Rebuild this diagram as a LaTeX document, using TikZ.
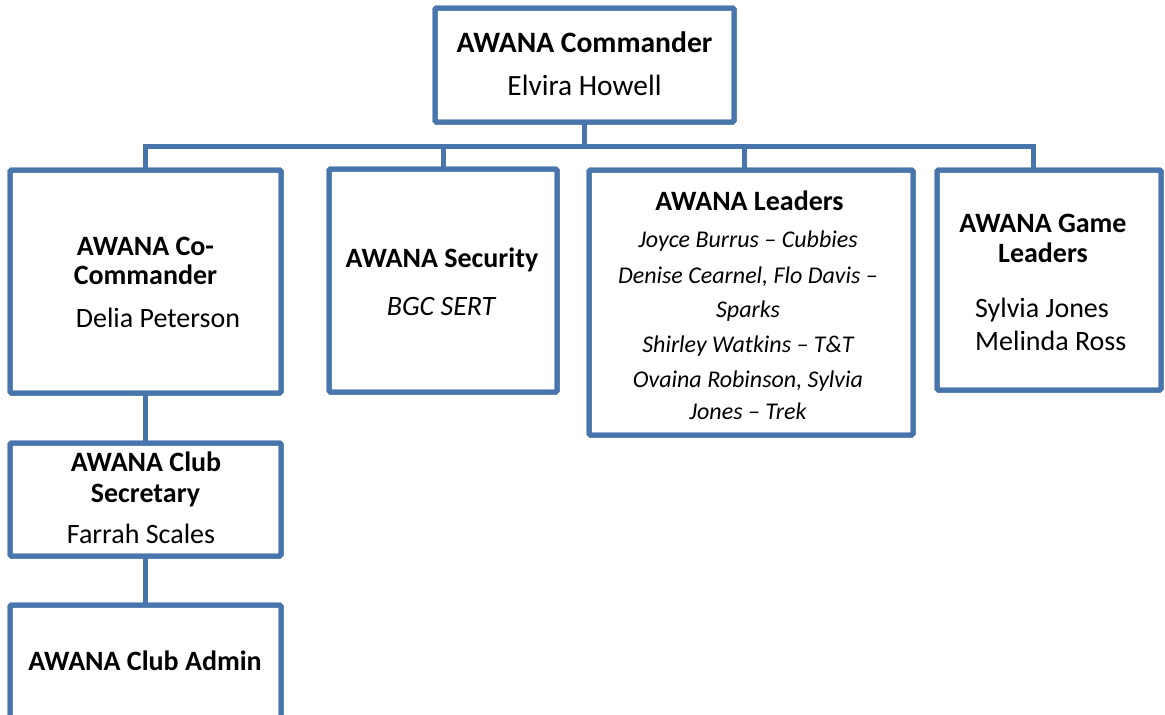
\documentclass[tikz,border=0pt]{standalone}
\usepackage{fontspec}
\setmainfont{Carlito}
\definecolor{orgblue}{RGB}{72,117,171}
\tikzset{
  box/.style={draw=orgblue, line width=5pt, rounded corners=1.5pt, inner sep=0pt, outer sep=0pt, fill=white},
  wire/.style={draw=orgblue, line width=5pt},
  rim/.style={draw=orgblue, line width=5pt, rounded corners=1.5pt},
  ttl/.style={anchor=base, inner sep=0pt, font=\fontsize{28}{34}\selectfont\bfseries},
  nm/.style={anchor=base, inner sep=0pt, font=\fontsize{28}{34}\selectfont},
  it/.style={anchor=base, inner sep=0pt, font=\fontsize{24}{29}\selectfont\itshape},
}
\begin{document}
\begin{tikzpicture}[x=1pt,y=-1pt]
\useasboundingbox (0,0) rectangle (1165,715);
\clip (0,0) rectangle (1165,715);
% boxes
\node[box, minimum width=299pt, minimum height=114pt] (cmd) at (584.5,65) {};
\node[box, minimum width=271pt, minimum height=223pt] (co) at (145.5,281.5) {};
\node[box, minimum width=228pt, minimum height=223pt] (sec) at (443,280.5) {};
\node[box, minimum width=324pt, minimum height=265pt] (lead) at (751,302.5) {};
\node[box, minimum width=224pt, minimum height=220pt] (game) at (1049,280) {};
\node[box, minimum width=271pt, minimum height=113pt] (secr) at (145.5,499.5) {};
\node[box, minimum width=271pt, minimum height=150pt] (adm) at (145.5,680) {};
% connector anchors
\coordinate (bus) at (0,146);
\coordinate (lx) at (744,0);
\coordinate (gx) at (1033,0);
% connectors
\draw[wire] (cmd.south) -- (cmd.south |- bus);
\draw[wire] (co.north) -- (co.north |- bus) -- (gx |- bus) -- (gx |- game.north);
\draw[wire] (sec.north |- bus) -- (sec.north);
\draw[wire] (lx |- bus) -- (lx |- lead.north);
\draw[wire] (co.south) -- (secr.north);
\draw[wire] (secr.south) -- (adm.north);
% redraw box borders over wires
\foreach \n in {cmd,co,sec,lead,game,secr,adm}{
  \draw[rim] (\n.north west) rectangle (\n.south east);
}
% texts
\node[ttl, font=\fontsize{29.6}{35}\selectfont\bfseries] (t1) at (584.5,52) {AWANA Commander};
\node[nm, font=\fontsize{29.4}{35}\selectfont] (n1) at (584.5,95) {Elvira Howell};
\node[ttl] (t2a) at (145.5,255) {AWANA Co-};
\node[ttl] (t2b) at (145.5,284) {Commander};
\node[nm] (n2) at (158,327) {Delia Peterson};
\node[ttl] (t3) at (442,267) {AWANA Security};
\node[it] (n3) at (441,315) {\fontsize{28}{34}\selectfont BGC SERT};
\node[ttl] (t4) at (749.5,210) {AWANA Leaders};
\node[it] (l1) at (748,247) {Joyce Burrus – Cubbies};
\node[it] (l2) at (748,283) {Denise Cearnel, Flo Davis –};
\node[it] (l3) at (748,317) {Sparks};
\node[it] (l4) at (748,352) {Shirley Watkins – T\&T};
\node[it] (l5) at (748,387) {Ovaina Robinson, Sylvia};
\node[it] (l6) at (748,419) {Jones – Trek};
\node[ttl] (t5a) at (1043,232) {AWANA Game};
\node[ttl] (t5b) at (1043,262) {Leaders};
\node[nm, anchor=base west] (n5a) at (975,317) {Sylvia Jones};
\node[nm, anchor=base west] (n5b) at (975,350) {Melinda Ross};
\node[ttl] (t6a) at (146,471) {AWANA Club};
\node[ttl] (t6b) at (145.5,502) {Secretary};
\node[nm] (n6) at (141,543) {Farrah Scales};
\node[ttl] (t7) at (145,670) {AWANA Club Admin};
\end{tikzpicture}
\end{document}
